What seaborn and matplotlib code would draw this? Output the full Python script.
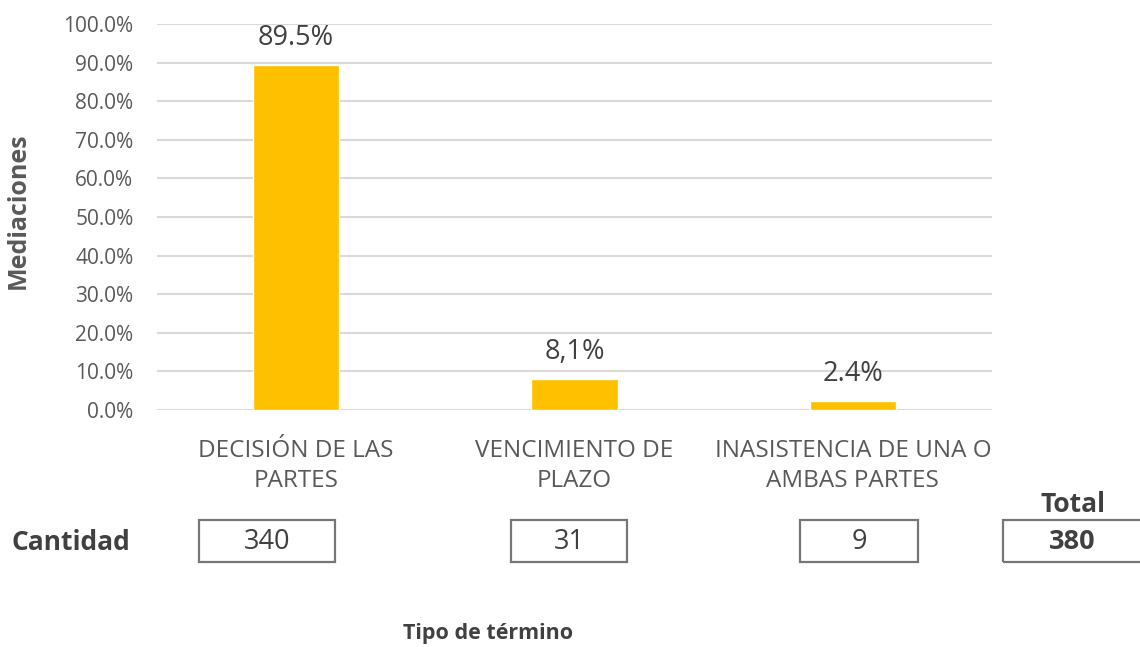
import matplotlib
matplotlib.use("Agg")
import matplotlib.pyplot as plt
import seaborn as sns
import pandas as pd
from matplotlib.patches import Rectangle

# ---- data ----
categories = ["DECISIÓN DE LAS\nPARTES", "VENCIMIENTO DE\nPLAZO", "INASISTENCIA DE UNA O\nAMBAS PARTES"]
percentages = [89.5, 8.1, 2.4]
value_labels = ["89.5%", "8,1%", "2.4%"]
counts = [340, 31, 9]
total = 380
yticks = [0, 10, 20, 30, 40, 50, 60, 70, 80, 90, 100]
ytick_labels = ["0.0%", "10.0%", "20.0%", "30.0%", "40.0%", "50.0%",
                "60.0%", "70.0%", "80.0%", "90.0%", "100.0%"]

TEXT = "#595959"
W, H = 1140, 647

sns.set_theme(style="white")
plt.rcParams['font.family'] = ['Open Sans', 'DejaVu Sans']

fig = plt.figure(figsize=(W / 100, H / 100), dpi=100)
ax = fig.add_axes([157 / W, 1 - 410 / H, (992 - 157) / W, (410 - 24) / H])

df = pd.DataFrame({"cat": categories, "pct": percentages})
sns.barplot(data=df, x="cat", y="pct", color="#FFC000", saturation=1,
            width=0.31, ax=ax, zorder=3)

ax.set_ylim(0, 100)
ax.set_xlim(-0.5, 2.5)
ax.set_yticks(yticks)
ax.set_yticklabels(ytick_labels)
ax.yaxis.grid(True, color="#d9d9d9", lw=1.5, zorder=0)
ax.set_axisbelow(True)
for s in ax.spines.values():
    s.set_visible(False)
ax.tick_params(axis='y', length=0, pad=17, labelsize=15, labelcolor=TEXT)
ax.tick_params(axis='x', length=0, pad=21, labelsize=17.5, labelcolor=TEXT)
for t in ax.get_xticklabels():
    t.set_linespacing(1.3)
ax.set_xlabel("")
ax.set_ylabel("")

ax.bar_label(ax.containers[0], labels=value_labels, padding=9,
             fontsize=19.5, color="#404040")

# axis titles
fig.text(18 / W, 1 - 211 / H, "Mediaciones", rotation=90, ha="center", va="center",
         fontsize=18, fontweight="bold", color=TEXT)
fig.text(488 / W, 1 - 634 / H, "Tipo de término", ha="center", va="center",
         fontsize=15.5, fontweight="bold", color="#404040")

# quantity row
fig.text(71 / W, 1 - 543 / H, "Cantidad", ha="center", va="center",
         fontsize=19, fontweight="bold", color="#404040")
fig.text(1073 / W, 1 - 505 / H, "Total", ha="center", va="center",
         fontsize=19, fontweight="bold", color="#404040")

boxes = [(199, 335), (511, 627), (800, 918)]
for (x0, x1), c in zip(boxes, counts):
    fig.patches.append(Rectangle((x0 / W, 1 - 562 / H), (x1 - x0) / W, 42 / H,
                                 transform=fig.transFigure, fill=False,
                                 edgecolor="#767676", lw=1.6))
    fig.text((x0 + x1) / 2 / W, 1 - 542 / H, str(c), ha="center", va="center",
             fontsize=19.5, color="#404040")
fig.patches.append(Rectangle((1003 / W, 1 - 562 / H), 150 / W, 42 / H,
                             transform=fig.transFigure, fill=False,
                             edgecolor="#767676", lw=1.6, clip_on=False))
fig.text(1072 / W, 1 - 542 / H, str(total), ha="center", va="center",
         fontsize=19.5, fontweight="bold", color="#404040")

fig.savefig("out.png", dpi=100, facecolor="white")
